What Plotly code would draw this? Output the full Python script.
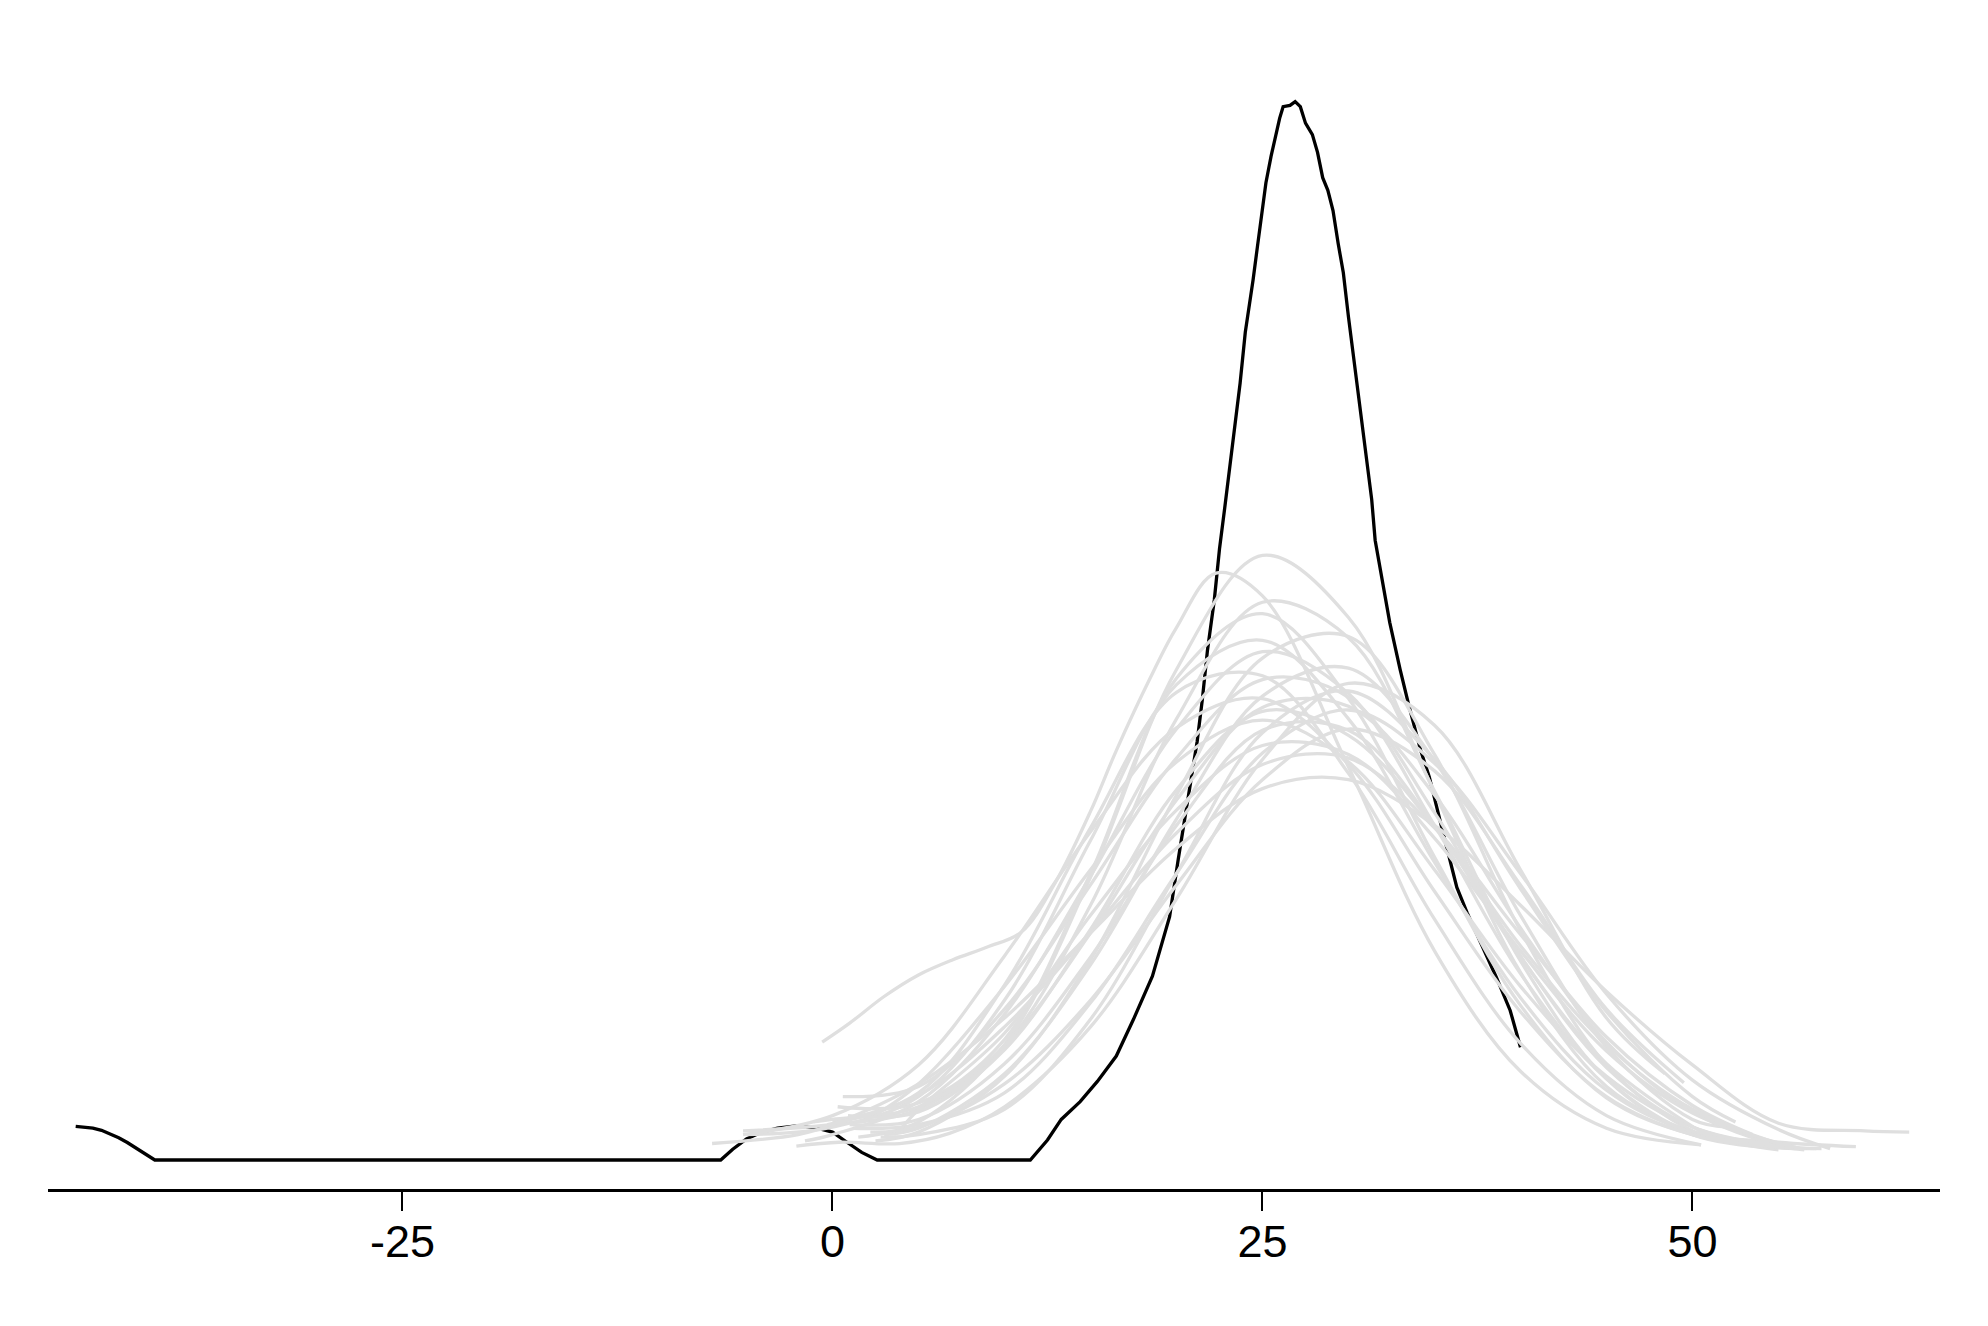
import plotly.graph_objects as go

# ---- tick labels ----
tick_vals = [-25, 0, 25, 50]
tick_text = ["-25", "0", "25", "50"]

# ---- observed density (black) ----
obs_x = [-44.0, -43.5, -43.0, -42.5, -42.0, -41.5, -41.0, -40.5, -40.0, -39.4, -6.5, -5.8, -5.0, -4.1, -3.2, -2.1,
         -0.9, 0.0, 0.8, 1.7, 2.6,
         11.5, 12.5, 13.3, 14.4, 15.4, 16.5, 17.5, 18.6, 19.6, 20.1, 20.5, 20.8, 21.2, 21.5, 21.8, 22.2, 22.5, 22.8,
         23.1, 23.4, 23.7, 24.0, 24.3, 24.45, 24.7, 24.95, 25.2, 25.5, 25.8, 26.0, 26.2, 26.6, 26.9, 27.2, 27.5,
         27.9, 28.2, 28.5, 28.8, 29.1, 29.4, 29.7, 30.0, 30.5, 31.0, 31.35, 31.55, 32.0, 32.4, 33.0, 33.5, 34.2,
         34.7, 35.5, 36.3, 36.9, 37.8, 38.6, 39.4, 40.0]
obs_y = [0.00266, 0.00262, 0.00252, 0.00234, 0.00208, 0.00176, 0.00138, 0.00095, 0.00050, 0.0, 0.0, 0.00085,
         0.00166, 0.00220, 0.00252, 0.00268, 0.00252, 0.00220, 0.00144, 0.00060, 0.0,
         0.0, 0.00158, 0.0032, 0.0046, 0.0062, 0.0082, 0.0111, 0.0145, 0.0192, 0.0237, 0.0271, 0.0298, 0.0330,
         0.0363, 0.0402, 0.0442, 0.0482, 0.0514, 0.0547, 0.0579, 0.0613, 0.0653, 0.0679, 0.0694, 0.0720, 0.0747,
         0.0771, 0.0792, 0.0810, 0.0822, 0.0831, 0.0832, 0.0835, 0.0831, 0.0818, 0.0809, 0.0795, 0.0775, 0.0765,
         0.0749, 0.0723, 0.0700, 0.0665, 0.0613, 0.0561, 0.0521, 0.0489, 0.0455, 0.0424, 0.0387, 0.0359, 0.0323,
         0.0302, 0.0258, 0.0215, 0.0195, 0.0168, 0.0144, 0.0118, 0.0089]

# ---- replicated densities (gray) ----
rep01_x = [1.5, 5, 10, 15, 20, 25, 30, 35, 40, 45, 50, 55.0]
rep01_y = [0.0018, 0.0030, 0.0091, 0.0223, 0.0387, 0.0477, 0.0428, 0.0290, 0.0148, 0.0058, 0.0022, 0.0008]
rep02_x = [-0.6, 1.0, 3.0, 5.0, 7.0, 9.0, 11.0, 13.0, 15.0, 16.5, 18.5, 20.0, 22.3, 25.0, 30.0, 35.0, 40.0, 45.0, 50.5]
rep02_y = [0.0093, 0.0108, 0.0129, 0.0146, 0.0158, 0.0168, 0.0180, 0.0220, 0.0275, 0.0323, 0.0381, 0.0420, 0.0463,
           0.0445, 0.0310, 0.0165, 0.0070, 0.0025, 0.0012]
rep03_x = [-5.2, 0, 5, 10, 15, 20, 25, 30, 35, 40, 45, 50, 56.0]
rep03_y = [0.0023, 0.0028, 0.0040, 0.0090, 0.0201, 0.0348, 0.0440, 0.0412, 0.0291, 0.0157, 0.0064, 0.0020, 0.0009]
rep04_x = [0.3, 5, 10, 15, 20, 25, 30, 35, 40, 45, 50, 55, 57.2]
rep04_y = [0.0042, 0.0045, 0.0095, 0.0226, 0.0380, 0.0431, 0.0364, 0.0239, 0.0122, 0.0049, 0.0020, 0.0010, 0.0009]
rep05_x = [2.5, 5, 10, 15, 20, 25, 30, 35, 40, 45, 50, 53.0]
rep05_y = [0.0015, 0.0022, 0.0066, 0.0158, 0.0288, 0.0396, 0.0413, 0.0320, 0.0181, 0.0075, 0.0023, 0.0015]
rep06_x = [-5.0, 0, 5, 10, 15, 20, 25, 30, 35, 40, 45, 50, 55, 59.5]
rep06_y = [0.0020, 0.0026, 0.0050, 0.0126, 0.0252, 0.0375, 0.0410, 0.0348, 0.0235, 0.0128, 0.0055, 0.0022, 0.0014,
           0.00105]
rep07_x = [-1.6, 0, 5, 10, 15, 20, 25, 30, 35, 40, 45, 50, 54.1]
rep07_y = [0.0015, 0.0020, 0.0046, 0.0115, 0.0224, 0.0340, 0.0401, 0.0368, 0.0264, 0.0147, 0.0064, 0.0021, 0.0012]
rep08_x = [3.0, 5, 10, 15, 20, 25, 30, 35, 40, 45, 50, 52.0]
rep08_y = [0.0020, 0.0025, 0.0068, 0.0154, 0.0269, 0.0366, 0.0388, 0.0315, 0.0193, 0.0089, 0.0032, 0.0026]
rep09_x = [0.6, 5, 10, 15, 20, 25, 30, 35, 40, 45, 50, 56.5]
rep09_y = [0.0050, 0.0058, 0.0119, 0.0217, 0.0317, 0.0379, 0.0365, 0.0274, 0.0161, 0.0073, 0.0026, 0.0008]
rep10_x = [-2.1, 0.4, 3.9, 6.8, 10, 15, 20, 25, 30, 35, 40, 45, 48.4]
rep10_y = [0.0011, 0.0014, 0.0013, 0.0021, 0.0042, 0.0105, 0.0206, 0.0316, 0.0376, 0.0343, 0.0229, 0.0112, 0.0068]
rep11_x = [-1.1, 0, 5, 10, 15, 20, 25, 30, 35, 40, 45, 50, 55, 57.5]
rep11_y = [0.0030, 0.0032, 0.0042, 0.0090, 0.0179, 0.0284, 0.0357, 0.0358, 0.0288, 0.0183, 0.0093, 0.0038, 0.0012,
           0.0009]
rep12_x = [-5.2, 0, 5, 10, 15, 20, 25, 30, 35, 40, 45, 50, 55.5]
rep12_y = [0.0020, 0.0035, 0.0075, 0.0161, 0.0259, 0.0341, 0.0364, 0.0312, 0.0212, 0.0117, 0.0050, 0.0020, 0.0010]
rep13_x = [1.2, 5, 10, 15, 20, 25, 30, 35, 40, 45, 50, 55, 58.0]
rep13_y = [0.0025, 0.0028, 0.0053, 0.0124, 0.0226, 0.0321, 0.0355, 0.0313, 0.0226, 0.0131, 0.0063, 0.0024, 0.0009]
rep14_x = [1.8, 5, 10, 15, 20, 25, 30, 35, 40, 45, 50, 54.5]
rep14_y = [0.0030, 0.0060, 0.0137, 0.0229, 0.0314, 0.0347, 0.0314, 0.0229, 0.0137, 0.0066, 0.0026, 0.0012]
rep15_x = [2.2, 5, 10, 15, 20, 25, 30, 35, 40, 45, 49.5]
rep15_y = [0.0022, 0.0026, 0.0060, 0.0126, 0.0217, 0.0300, 0.0340, 0.0307, 0.0217, 0.0119, 0.0061]
rep16_x = [4.0, 5, 10, 15, 20, 25, 30, 35, 40, 45, 50, 56.0]
rep16_y = [0.0025, 0.0040, 0.0100, 0.0193, 0.0276, 0.0327, 0.0320, 0.0254, 0.0165, 0.0086, 0.0037, 0.0010]
rep17_x = [0.0, 5, 10, 15, 20, 25, 30, 35, 40, 45, 50, 53.5]
rep17_y = [0.0030, 0.0051, 0.0105, 0.0180, 0.0258, 0.0312, 0.0317, 0.0262, 0.0178, 0.0097, 0.0043, 0.0020]
rep18_x = [-7.0, -2, 0, 5, 10, 15, 20, 25, 30, 35, 40, 45, 50, 55, 60, 62.6]
rep18_y = [0.0013, 0.0020, 0.0028, 0.0060, 0.0112, 0.0179, 0.0246, 0.0293, 0.0300, 0.0264, 0.0201, 0.0133, 0.0075,
           0.0029, 0.0023, 0.0022]
rep19_x = [0.9, 5, 10, 15, 20, 25, 30, 35, 40, 45, 50, 55.2]
rep19_y = [0.0035, 0.0038, 0.0087, 0.0182, 0.0292, 0.0354, 0.0335, 0.0263, 0.0169, 0.0091, 0.0040, 0.0012]
rep20_x = [2.8, 5, 10, 15, 20, 25, 30, 35, 40, 45, 50, 52.5]
rep20_y = [0.0018, 0.0020, 0.0040, 0.0111, 0.0226, 0.0337, 0.0370, 0.0316, 0.0214, 0.0117, 0.0050, 0.0030]
rep21_x = [-0.3, 5, 10, 15, 20, 25, 30, 35, 40, 45, 50.5]
rep21_y = [0.0028, 0.0053, 0.0138, 0.0262, 0.0369, 0.0382, 0.0305, 0.0190, 0.0092, 0.0035, 0.0012]
rep22_x = [1.0, 5, 10, 15, 20, 25, 30, 35, 40, 45, 51.0]
rep22_y = [0.0028, 0.0032, 0.0076, 0.0160, 0.0264, 0.0339, 0.0339, 0.0264, 0.0160, 0.0076, 0.0018]

reps = [
    (rep01_x, rep01_y), (rep02_x, rep02_y), (rep03_x, rep03_y), (rep04_x, rep04_y),
    (rep05_x, rep05_y), (rep06_x, rep06_y), (rep07_x, rep07_y), (rep08_x, rep08_y),
    (rep09_x, rep09_y), (rep10_x, rep10_y), (rep11_x, rep11_y), (rep12_x, rep12_y),
    (rep13_x, rep13_y), (rep14_x, rep14_y), (rep15_x, rep15_y), (rep16_x, rep16_y),
    (rep17_x, rep17_y), (rep18_x, rep18_y), (rep19_x, rep19_y), (rep20_x, rep20_y),
    (rep21_x, rep21_y), (rep22_x, rep22_y),
]

fig = go.Figure()
fig.add_trace(go.Scatter(x=obs_x, y=obs_y, mode="lines",
                         line=dict(color="#000000", width=3.3, shape="linear"),
                         hoverinfo="skip", showlegend=False))
for xs, ys in reps:
    fig.add_trace(go.Scatter(x=xs, y=ys, mode="lines",
                             line=dict(color="#DFDFDF", width=3.3, shape="spline", smoothing=1.0),
                             hoverinfo="skip", showlegend=False))

fig.update_layout(
    width=1988, height=1326,
    margin=dict(l=40, r=56, t=32, b=145),
    plot_bgcolor="white", paper_bgcolor="white",
    font=dict(family="Liberation Sans, Arial, Helvetica, sans-serif", color="black"),
    xaxis=dict(range=[-45.61, 64.39], showgrid=False, zeroline=False,
               showline=True, linecolor="black", linewidth=2.5,
               ticks="outside", ticklen=19, tickwidth=2, tickcolor="black",
               tickvals=tick_vals, ticktext=tick_text, ticklabelstandoff=-8,
               tickfont=dict(size=45, color="black")),
    yaxis=dict(range=[-0.002288, 0.08836], visible=False, showgrid=False, zeroline=False),
)

fig.write_html("out.html")
